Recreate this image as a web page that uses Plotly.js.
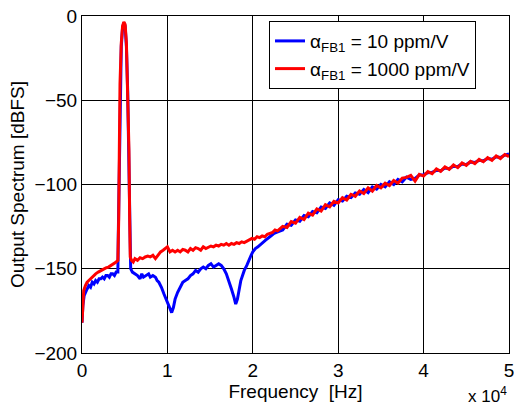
<!DOCTYPE html>
<html><head><meta charset="utf-8">
<script src="https://cdn.plot.ly/plotly-3.0.1.min.js"></script>
<style>html,body{margin:0;padding:0;background:#fff}#chart{width:514px;height:405px}</style>
</head><body><div id="chart"></div>
<script>
// frequency in units of 1e4 Hz
const blueFreq = [0.000,0.010,0.025,0.040,0.060,0.080,0.100,0.120,0.140,0.160,0.180,0.200,0.220,0.240,0.260,0.280,0.300,0.320,0.340,0.360,0.380,0.400,0.420,
  0.425,0.435,0.445,0.460,0.475,0.490,0.505,0.520,0.535,0.550,0.560,0.570,
  0.590,0.620,0.650,0.680,0.700,0.720,0.750,0.780,0.800,0.830,0.860,0.880,0.900,0.930,0.960,0.990,1.020,1.050,1.070,1.090,1.120,1.150,1.180,1.210,1.240,1.270,1.300,1.330,1.360,1.390,1.420,1.450,1.480,1.510,1.540,1.570,1.600,1.630,1.660,1.690,1.720,1.750,1.780,1.800,1.820,1.840,1.860,1.880,1.900,1.930,1.960,1.980,2.000,2.030,2.060,2.100,2.150,2.200,2.250,
  2.30,2.35,2.40,2.45,2.50,2.55,2.60,2.65,2.70,2.75,2.80,2.85,2.90,2.95,3.00,3.05,3.10,3.15,3.20,3.25,3.30,3.35,3.40,3.45,3.50,3.55,3.60,3.65,3.70,3.75,3.80,3.85,3.90,3.95,4.00,4.05,4.10,4.15,4.20,4.25,4.30,4.35,4.40,4.45,4.50,4.55,4.60,4.65,4.70,4.75,4.80,4.85,4.90,4.95,5.00];
const blueDb = [-182,-172,-166,-164,-162,-160,-161,-158,-159,-157,-158,-156,-156,-155,-156,-154,-154,-155,-153,-153,-154,-152,-152,
  -130,-90,-45,-18,-7,-4,-6,-18,-45,-90,-130,-150,
  -152,-153,-154,-156,-153,-155,-154,-153,-155,-154,-155,-157,-158,-161,-165,-169,-173,-176,-173,-168,-164,-161,-158,-157,-156,-154,-153,-151,-152,-150,-149,-150,-148,-147,-149,-148,-147,-148,-150,-153,-157,-162,-167,-171,-168,-161,-157,-154,-151,-148,-144,-142,-140,-138,-137,-135,-133,-131,-129,
  -128,-127,-123.6,-124.2,-121,-121.8,-118.4,-119.2,-116,-116.8,-113.4,-114.2,-111,-112.4,-109,-109.8,-107,-107.8,-105,-105.8,-103,-104.8,-101.4,-102.8,-100,-101.4,-98.4,-100,-97,-98.4,-95.6,-97,-96.4,-94.4,-94.2,-93,-92.8,-91.6,-91.8,-90.2,-90.6,-89.2,-89.4,-87.8,-88.2,-86.6,-87,-85.6,-86,-84.6,-85,-83.6,-84,-82.6,-81.8];

const redFreq = [0.000,0.010,0.020,0.040,0.060,0.080,0.100,0.130,0.160,0.190,0.220,0.250,0.280,0.310,0.340,0.370,0.400,0.420,
  0.430,0.437,0.445,0.460,0.475,0.490,0.505,0.520,0.535,0.550,0.558,0.565,
  0.58,0.60,0.62,0.65,0.68,0.71,0.74,0.77,0.80,0.83,0.86,0.89,0.92,0.95,0.98,1.00,1.03,1.06,1.09,1.12,1.15,1.18,1.21,1.24,1.27,1.30,1.33,1.36,1.39,1.42,1.45,1.48,1.51,1.54,1.57,1.60,1.63,1.66,1.69,1.72,1.75,1.78,1.81,1.84,1.87,1.90,1.93,1.96,1.99,2.02,2.05,2.08,2.11,2.14,2.17,2.20,2.23,2.26,2.29,
  2.35,2.40,2.45,2.50,2.55,2.60,2.65,2.70,2.75,2.80,2.85,2.90,2.95,3.00,3.05,3.10,3.15,3.20,3.25,3.30,3.35,3.40,3.45,3.50,3.55,3.60,3.65,3.70,3.75,3.80,3.85,3.90,3.95,4.00,4.05,4.10,4.15,4.20,4.25,4.30,4.35,4.40,4.45,4.50,4.55,4.60,4.65,4.70,4.75,4.80,4.85,4.90,4.95,5.00];
const redDb = [-182,-168,-163,-160,-158,-157,-156,-154,-153,-152,-151,-150,-149.5,-149,-148,-147.5,-146,-145,
  -120,-80,-40,-16,-6,-3.5,-5,-16,-42,-80,-120,-143,
  -145,-146,-144,-145,-143.5,-144,-143,-142.5,-143,-142,-144,-142,-140,-139,-138,-137,-140,-139,-140,-139,-140,-138.5,-139,-140,-138,-139,-137.5,-138,-139,-137,-138,-137,-136.5,-137,-136,-136.5,-135.5,-136,-135,-136,-135,-135.5,-134.5,-135,-134,-134.5,-133.5,-133,-132,-132.5,-131,-131.5,-130.5,-131,-129.5,-129,-128.5,-127,-127.5,
  -124.8,-125.5,-122,-123,-119.5,-120.8,-117,-118.2,-114.5,-115.8,-112,-113.3,-110,-111,-107.8,-109.2,-105.8,-107,-103.8,-105.4,-102,-104,-100.6,-102,-99.2,-100.6,-97.6,-99.2,-96.2,-95.8,-94.6,-98,-94,-95,-92.4,-93.6,-90.8,-92.2,-89.6,-91,-88.4,-90,-87.2,-88.6,-86.2,-87.6,-85.1,-86.5,-84.1,-85.6,-83,-84.6,-82.2,-83.4];

const xTicks = [0,1,2,3,4,5];
const yTicks = [-200,-150,-100,-50,0];
const seriesNames = ['α<sub>FB1</sub> = 10 ppm/V','α<sub>FB1</sub> = 1000 ppm/V'];

const font = {family:'Liberation Sans, Arial, sans-serif', color:'#000'};
const data = [
  {x:blueFreq, y:blueDb, type:'scatter', mode:'lines', name:seriesNames[0], line:{color:'#0000ff', width:3}},
  {x:redFreq, y:redDb, type:'scatter', mode:'lines', name:seriesNames[1], line:{color:'#ff0000', width:3}}
];
const layout = {
  width:514, height:405,
  margin:{l:82, r:5, t:16, b:52},
  paper_bgcolor:'#fff', plot_bgcolor:'#fff',
  font:Object.assign({size:19}, font),
  showlegend:true,
  legend:{x:0.438, y:0.985, xanchor:'left', yanchor:'top', bgcolor:'#fff', bordercolor:'#000', borderwidth:1,
    font:Object.assign({size:19}, font), tracegroupgap:0},
  xaxis:{range:[0,5], tickvals:xTicks, ticktext:xTicks.map(String), showgrid:true, gridcolor:'#000', gridwidth:1,
    zeroline:false, showline:true, mirror:true, linecolor:'#000', linewidth:1, ticks:'', ticklabeloverflow:'allow',
    tickfont:Object.assign({size:19}, font),
    title:{text:'Frequency  [Hz]', font:Object.assign({size:19}, font), standoff:2}},
  yaxis:{range:[-200,0], tickvals:yTicks, showgrid:true, gridcolor:'#000', gridwidth:1,
    zeroline:false, showline:true, mirror:true, linecolor:'#000', linewidth:1, ticks:'', ticklabeloverflow:'allow',
    tickfont:Object.assign({size:19}, font),
    title:{text:'Output Spectrum [dBFS]', font:Object.assign({size:19}, font), standoff:4}},
  annotations:[{xref:'paper', yref:'paper', x:1.0, y:0, yshift:-42, xanchor:'right', yanchor:'middle', showarrow:false,
    text:'x 10<sup>4</sup>', font:Object.assign({size:17}, font)}]
};
Plotly.newPlot('chart', data, layout, {displayModeBar:false, staticPlot:true});
</script></body></html>
